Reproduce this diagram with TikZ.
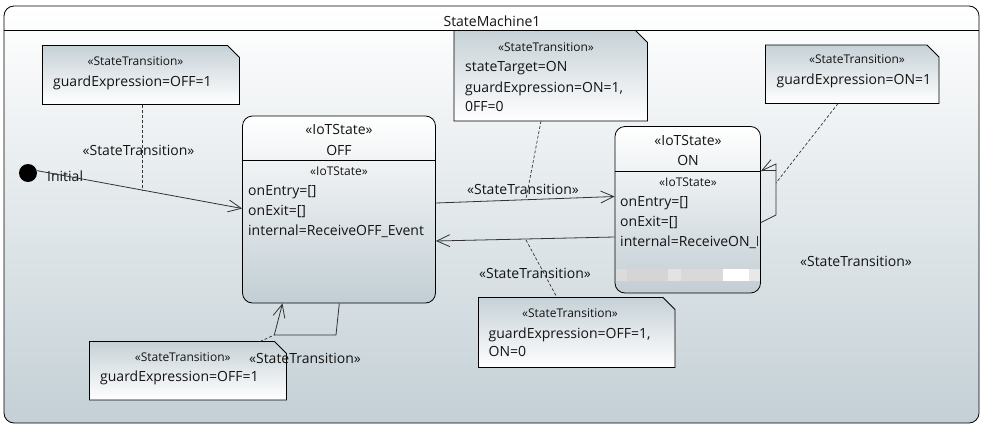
\documentclass[tikz,border=0pt]{standalone}
\usepackage{fontspec}
\setmainfont{Open Sans}
\usetikzlibrary{arrows.meta}
\definecolor{frameBot}{HTML}{C4D0D6}
\definecolor{noteTop}{HTML}{C6D1D7}
\definecolor{stateBot}{HTML}{C2CED4}
\definecolor{ink}{HTML}{141414}
\definecolor{edgec}{HTML}{333333}
\tikzset{
  txt/.style={inner sep=0pt, text=ink, font=\fontsize{14}{16}\selectfont, anchor=base},
  txtw/.style={txt, anchor=base west},
  stereo/.style={inner sep=0pt, text=ink, font=\fontsize{12}{14}\selectfont, anchor=base},
  trans/.style={draw=edgec, line width=0.8pt, -{Straight Barb[length=13pt,width=12pt,line width=0.8pt]}},
  anchorline/.style={draw=edgec, line width=0.7pt, dash pattern=on 3pt off 2pt},
  statebox/.style={draw=black, line width=0.8pt, rounded corners=10pt, top color=white, bottom color=stateBot, inner sep=0pt},
  notebox/.style={draw=black, line width=0.8pt, top color=noteTop, bottom color=white},
}
\newcommand{\notefold}[4]{% left top right bottom
  \path[notebox] (#1,#2) -- (#3-12,#2) -- (#3,#2+12) -- (#3,#4) -- (#1,#4) -- cycle;}
\begin{document}
\begin{tikzpicture}[x=1pt,y=-1pt]
\useasboundingbox (0,0) rectangle (987,434);
% frame
\path[draw=black, line width=0.8pt, rounded corners=10pt, top color=white, bottom color=frameBot] (4,6) rectangle (979,423);
\draw[black, line width=0.8pt] (4,30.5) -- (979,30.5);
\node[txt] (title) at (492,26) {StateMachine1};

% notes
\notefold{42.5}{45.5}{239.5}{104.5}
\node[stereo] (n1s) at (135.5,65.3) {«StateTransition»};
\node[txtw] (n1a) at (53,86) {guardExpression=OFF=1};

\notefold{454}{30.5}{647.5}{121}
\node[stereo] (n2s) at (546,51.6) {«StateTransition»};
\node[txtw] (n2a) at (465,71.7) {stateTarget=ON};
\node[txtw] (n2b) at (465,92) {guardExpression=ON=1,};
\node[txtw] (n2c) at (465,111) {0FF=0};

\notefold{765.5}{45}{939}{103.5}
\node[stereo] (n3s) at (857,63.6) {«StateTransition»};
\node[txtw] (n3a) at (776.5,84.3) {guardExpression=ON=1};

\notefold{478.5}{297.5}{675}{367.5}
\node[stereo] (n4s) at (570,317) {«StateTransition»};
\node[txtw] (n4a) at (488.5,338) {guardExpression=OFF=1,};
\node[txtw] (n4b) at (488.5,356.5) {ON=0};

\notefold{89.5}{341.5}{286.5}{400}
\node[stereo] (n5s) at (182.7,361) {«StateTransition»};
\node[txtw] (n5a) at (100,381.7) {guardExpression=OFF=1};

% OFF state
\node[statebox, minimum width=193pt, minimum height=187pt] (off) at (339,209.5) {};
\draw[black, line width=0.8pt] (off.west |- 0,160.5) -- (off.east |- 0,160.5);
\node[txt] (offst) at (339,134.3) {«IoTState»};
\node[txt] (offname) at (339,155.2) {OFF};
\node[stereo] (offst2) at (339,175) {«IoTState»};
\node[txtw] (offa) at (248,195.7) {onEntry=[]};
\node[txtw] (offb) at (248,215) {onExit=[]};
\node[txtw] (offc) at (248,235) {internal=ReceiveOFF\_Event};

% ON state
\node[statebox, minimum width=145.5pt, minimum height=166.5pt] (on) at (687.75,209.75) {};
\draw[black, line width=0.8pt] (on.west |- 0,171.5) -- (on.east |- 0,171.5);
\node[txt] (onst) at (688,145.7) {«IoTState»};
\node[txt] (onname) at (688,165.7) {ON};
\node[stereo] (onst2) at (688,186) {«IoTState»};
\node[txtw] (ona) at (620,206.7) {onEntry=[]};
\node[txtw] (onb) at (620,226.7) {onExit=[]};
\begin{scope}
  \clip (615,230) rectangle (757.5,252);
  \node[txtw] (onc) at (620,246.7) {internal=ReceiveON\_Event};
\end{scope}
\fill[gray!28] (615.5,269) rectangle (627,281);
\fill[gray!33] (627,269) rectangle (668,281);
\fill[gray!22] (668,269) rectangle (681,281);
\fill[gray!30] (681,269) rectangle (723,281);
\fill[white] (723,269) rectangle (749,281);
\fill[gray!18] (749,269) rectangle (760,281);

% initial
\node[circle, fill=black, minimum size=18pt, inner sep=0pt] (init) at (28,173) {};
\node[txtw] (initlbl) at (47,181.7) {Initial};

% transitions
\coordinate (offin) at (off.west |- 0,208.5);
\draw[trans] (init.15) -- (offin);
\node[txt] (t1) at (138.5,155.5) {«StateTransition»};
\coordinate (n1p) at (142,104.5);
\coordinate (t1p) at (142,190);
\draw[anchorline] (n1p) -- (t1p);

\coordinate (t2a) at (off.east |- 0,203);
\coordinate (t2b) at (on.west |- 0,196.5);
\draw[trans] (t2a) -- (t2b);
\node[txt] (t2) at (523,194.7) {«StateTransition»};
\coordinate (t2p) at (526,199);
\coordinate (n2p) at (541,121);
\draw[anchorline] (n2p) -- (t2p);

\coordinate (t3a) at (on.west |- 0,237);
\coordinate (t3b) at (off.east |- 0,241);
\draw[trans] (t3a) -- (t3b);
\node[txt] (t3) at (535,278.3) {«StateTransition»};
\coordinate (t3p) at (526,240);
\coordinate (n4p) at (557,297.5);
\draw[anchorline] (t3p) -- (n4p);

% ON self loop
\coordinate (l1a) at (on.east |- 0,222.5);
\coordinate (l1b) at (776,215);
\coordinate (l1c) at (776,164);
\coordinate (l1d) at (on.east |- 0,171);
\draw[trans] (l1a) -- (l1b) -- (l1c) -- (l1d);
\node[txt] (t4) at (856,266) {«StateTransition»};
\coordinate (n3p) at (838,103.5);
\coordinate (l1p) at (776,183);
\draw[anchorline] (n3p) -- (l1p);

% OFF self loop
\coordinate (l2a) at (off.south -| 339.3,0);
\coordinate (l2b) at (336,335);
\coordinate (l2c) at (274.3,335);
\coordinate (l2d) at (off.south -| 282.5,0);
\draw[trans] (l2a) -- (l2b) -- (l2c) -- (l2d);
\coordinate (n5p) at (260,341.5);
\draw[anchorline] (n5p) -- (l2c);
\node[txt] (t5) at (305,363.3) {«StateTransition»};
\end{tikzpicture}
\end{document}
